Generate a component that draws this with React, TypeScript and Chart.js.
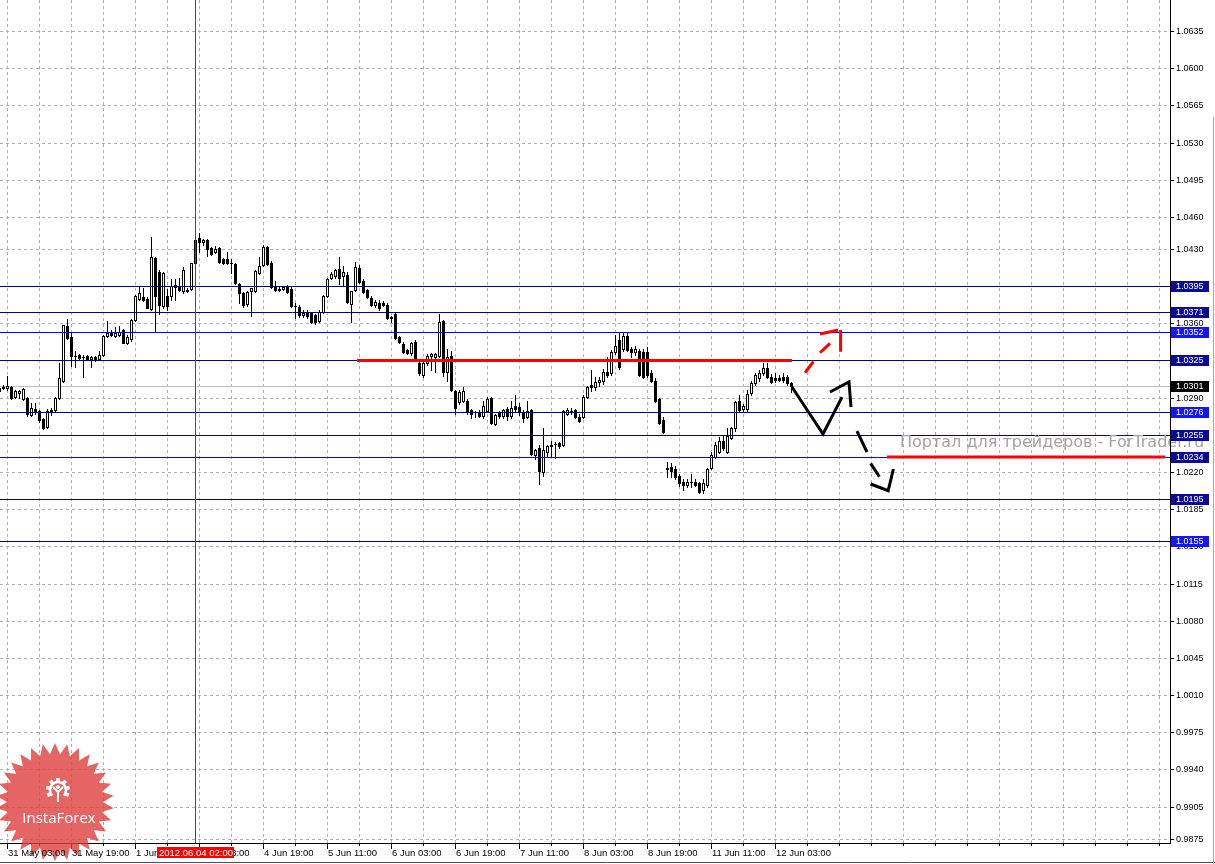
import React, { useEffect, useRef } from "react";
import { Chart, registerables } from "chart.js";

Chart.register(...registerables);

// ---------- DATA (USD/CAD H1 candles) ----------
const opens = [
  1.0299, 1.0300, 1.0299, 1.0300, 1.0291, 1.0294, 1.0289, 1.0290, 1.0274, 1.0279,
  1.0277, 1.0270, 1.0262, 1.0278, 1.0278, 1.0290, 1.0306, 1.0357, 1.0347, 1.0329,
  1.0330, 1.0328, 1.0329, 1.0326, 1.0328, 1.0326, 1.0330, 1.0348, 1.0351, 1.0348,
  1.0349, 1.0354, 1.0341, 1.0345, 1.0363, 1.0383, 1.0385, 1.0383, 1.0373, 1.0421,
  1.0408, 1.0376, 1.0386, 1.0386, 1.0396, 1.0394, 1.0390, 1.0391, 1.0392, 1.0438,
  1.0440, 1.0436, 1.0438, 1.0431, 1.0427, 1.0431, 1.0420, 1.0420, 1.0417, 1.0416,
  1.0397, 1.0388, 1.0378, 1.0390, 1.0390, 1.0407, 1.0415, 1.0432, 1.0417, 1.0394,
  1.0392, 1.0392, 1.0395, 1.0392, 1.0376, 1.0375, 1.0368, 1.0370, 1.0370, 1.0368,
  1.0362, 1.0371, 1.0386, 1.0403, 1.0404, 1.0411, 1.0404, 1.0405, 1.0378, 1.0391,
  1.0412, 1.0400, 1.0391, 1.0384, 1.0377, 1.0379, 1.0379, 1.0377, 1.0366, 1.0369,
  1.0347, 1.0340, 1.0335, 1.0332, 1.0342, 1.0323, 1.0311, 1.0323, 1.0329, 1.0328,
  1.0329, 1.0362, 1.0314, 1.0329, 1.0296, 1.0286, 1.0287, 1.0287, 1.0278, 1.0276,
  1.0276, 1.0273, 1.0277, 1.0290, 1.0265, 1.0276, 1.0273, 1.0279, 1.0273, 1.0282,
  1.0281, 1.0276, 1.0272, 1.0278, 1.0236, 1.0243, 1.0220, 1.0239, 1.0245, 1.0246,
  1.0247, 1.0245, 1.0275, 1.0277, 1.0278, 1.0272, 1.0272, 1.0291, 1.0302, 1.0300,
  1.0305, 1.0306, 1.0314, 1.0313, 1.0333, 1.0344, 1.0336, 1.0348, 1.0336, 1.0333,
  1.0334, 1.0333, 1.0333, 1.0313, 1.0306, 1.0289, 1.0269, 1.0224, 1.0225, 1.0223,
  1.0216, 1.0211, 1.0208, 1.0211, 1.0211, 1.0210, 1.0203, 1.0208, 1.0224, 1.0234,
  1.0239, 1.0249, 1.0239, 1.0252, 1.0261, 1.0287, 1.0279, 1.0279, 1.0294, 1.0304,
  1.0308, 1.0313, 1.0318, 1.0309, 1.0308, 1.0308, 1.0309, 1.0309, 1.0304,
];
const highs = [
  1.0300, 1.0302, 1.0310, 1.0301, 1.0297, 1.0297, 1.0299, 1.0291, 1.0285, 1.0285,
  1.0278, 1.0271, 1.0279, 1.0280, 1.0291, 1.0323, 1.0358, 1.0364, 1.0351, 1.0334,
  1.0331, 1.0330, 1.0330, 1.0329, 1.0329, 1.0334, 1.0349, 1.0362, 1.0354, 1.0356,
  1.0357, 1.0355, 1.0349, 1.0364, 1.0387, 1.0395, 1.0393, 1.0385, 1.0441, 1.0422,
  1.0410, 1.0408, 1.0392, 1.0402, 1.0402, 1.0403, 1.0413, 1.0393, 1.0417, 1.0440,
  1.0445, 1.0439, 1.0439, 1.0432, 1.0433, 1.0432, 1.0421, 1.0427, 1.0420, 1.0417,
  1.0398, 1.0389, 1.0390, 1.0393, 1.0410, 1.0422, 1.0434, 1.0433, 1.0419, 1.0400,
  1.0394, 1.0395, 1.0396, 1.0394, 1.0379, 1.0377, 1.0372, 1.0372, 1.0371, 1.0369,
  1.0372, 1.0387, 1.0403, 1.0408, 1.0411, 1.0422, 1.0414, 1.0408, 1.0390, 1.0418,
  1.0415, 1.0402, 1.0392, 1.0386, 1.0382, 1.0382, 1.0381, 1.0379, 1.0367, 1.0370,
  1.0348, 1.0342, 1.0336, 1.0342, 1.0344, 1.0326, 1.0324, 1.0331, 1.0332, 1.0332,
  1.0369, 1.0363, 1.0336, 1.0334, 1.0297, 1.0297, 1.0300, 1.0289, 1.0279, 1.0277,
  1.0278, 1.0287, 1.0291, 1.0291, 1.0275, 1.0277, 1.0279, 1.0281, 1.0287, 1.0292,
  1.0285, 1.0278, 1.0287, 1.0279, 1.0242, 1.0245, 1.0261, 1.0245, 1.0249, 1.0248,
  1.0248, 1.0278, 1.0280, 1.0280, 1.0279, 1.0275, 1.0292, 1.0301, 1.0316, 1.0309,
  1.0309, 1.0317, 1.0328, 1.0335, 1.0349, 1.0351, 1.0352, 1.0351, 1.0338, 1.0339,
  1.0336, 1.0336, 1.0338, 1.0316, 1.0308, 1.0290, 1.0272, 1.0229, 1.0228, 1.0226,
  1.0218, 1.0213, 1.0213, 1.0218, 1.0213, 1.0211, 1.0213, 1.0224, 1.0239, 1.0248,
  1.0253, 1.0254, 1.0261, 1.0262, 1.0287, 1.0292, 1.0284, 1.0297, 1.0306, 1.0313,
  1.0316, 1.0323, 1.0323, 1.0312, 1.0313, 1.0311, 1.0313, 1.0311, 1.0305,
];
const lows = [
  1.0294, 1.0298, 1.0297, 1.0289, 1.0290, 1.0290, 1.0288, 1.0273, 1.0273, 1.0275,
  1.0267, 1.0260, 1.0261, 1.0274, 1.0277, 1.0289, 1.0305, 1.0345, 1.0320, 1.0319,
  1.0326, 1.0309, 1.0325, 1.0319, 1.0324, 1.0325, 1.0329, 1.0347, 1.0348, 1.0347,
  1.0348, 1.0341, 1.0340, 1.0343, 1.0362, 1.0382, 1.0381, 1.0374, 1.0372, 1.0352,
  1.0369, 1.0374, 1.0372, 1.0382, 1.0382, 1.0390, 1.0388, 1.0389, 1.0391, 1.0416,
  1.0427, 1.0434, 1.0423, 1.0424, 1.0426, 1.0417, 1.0416, 1.0416, 1.0407, 1.0397,
  1.0379, 1.0375, 1.0376, 1.0367, 1.0389, 1.0406, 1.0414, 1.0415, 1.0393, 1.0390,
  1.0390, 1.0391, 1.0388, 1.0375, 1.0365, 1.0366, 1.0366, 1.0365, 1.0360, 1.0359,
  1.0361, 1.0370, 1.0385, 1.0402, 1.0403, 1.0397, 1.0396, 1.0379, 1.0361, 1.0390,
  1.0398, 1.0388, 1.0384, 1.0376, 1.0375, 1.0372, 1.0376, 1.0364, 1.0361, 1.0345,
  1.0341, 1.0332, 1.0331, 1.0330, 1.0325, 1.0311, 1.0309, 1.0321, 1.0316, 1.0314,
  1.0328, 1.0310, 1.0306, 1.0296, 1.0275, 1.0284, 1.0286, 1.0275, 1.0271, 1.0272,
  1.0272, 1.0271, 1.0276, 1.0265, 1.0264, 1.0271, 1.0271, 1.0269, 1.0271, 1.0276,
  1.0274, 1.0267, 1.0271, 1.0236, 1.0232, 1.0209, 1.0216, 1.0234, 1.0234, 1.0233,
  1.0243, 1.0244, 1.0274, 1.0275, 1.0271, 1.0267, 1.0271, 1.0290, 1.0296, 1.0297,
  1.0301, 1.0303, 1.0309, 1.0311, 1.0331, 1.0317, 1.0334, 1.0334, 1.0328, 1.0330,
  1.0310, 1.0308, 1.0309, 1.0305, 1.0286, 1.0265, 1.0257, 1.0215, 1.0215, 1.0213,
  1.0207, 1.0203, 1.0206, 1.0206, 1.0207, 1.0200, 1.0200, 1.0206, 1.0223, 1.0233,
  1.0238, 1.0241, 1.0238, 1.0251, 1.0259, 1.0277, 1.0277, 1.0277, 1.0292, 1.0302,
  1.0306, 1.0311, 1.0308, 1.0304, 1.0305, 1.0306, 1.0305, 1.0302, 1.0295,
];
const closes = [
  1.0296, 1.0299, 1.0301, 1.0290, 1.0296, 1.0296, 1.0298, 1.0275, 1.0280, 1.0276,
  1.0269, 1.0261, 1.0277, 1.0276, 1.0290, 1.0308, 1.0358, 1.0346, 1.0329, 1.0329,
  1.0327, 1.0328, 1.0326, 1.0328, 1.0325, 1.0330, 1.0348, 1.0351, 1.0349, 1.0351,
  1.0352, 1.0341, 1.0347, 1.0363, 1.0386, 1.0388, 1.0382, 1.0374, 1.0422, 1.0386,
  1.0377, 1.0407, 1.0376, 1.0395, 1.0394, 1.0391, 1.0410, 1.0390, 1.0417, 1.0417,
  1.0436, 1.0438, 1.0430, 1.0425, 1.0430, 1.0418, 1.0417, 1.0417, 1.0417, 1.0398,
  1.0388, 1.0377, 1.0389, 1.0393, 1.0409, 1.0414, 1.0432, 1.0416, 1.0394, 1.0391,
  1.0391, 1.0394, 1.0389, 1.0376, 1.0376, 1.0368, 1.0370, 1.0367, 1.0361, 1.0361,
  1.0371, 1.0386, 1.0402, 1.0406, 1.0410, 1.0403, 1.0408, 1.0380, 1.0390, 1.0413,
  1.0399, 1.0389, 1.0385, 1.0377, 1.0380, 1.0374, 1.0377, 1.0365, 1.0365, 1.0346,
  1.0342, 1.0333, 1.0332, 1.0341, 1.0326, 1.0313, 1.0323, 1.0329, 1.0331, 1.0331,
  1.0361, 1.0314, 1.0328, 1.0297, 1.0280, 1.0295, 1.0296, 1.0276, 1.0275, 1.0276,
  1.0273, 1.0282, 1.0289, 1.0266, 1.0274, 1.0273, 1.0278, 1.0273, 1.0280, 1.0279,
  1.0276, 1.0271, 1.0277, 1.0237, 1.0241, 1.0221, 1.0241, 1.0244, 1.0244, 1.0246,
  1.0244, 1.0277, 1.0278, 1.0277, 1.0272, 1.0268, 1.0291, 1.0300, 1.0300, 1.0305,
  1.0307, 1.0314, 1.0311, 1.0333, 1.0339, 1.0319, 1.0348, 1.0335, 1.0333, 1.0336,
  1.0311, 1.0309, 1.0311, 1.0306, 1.0287, 1.0266, 1.0258, 1.0223, 1.0221, 1.0215,
  1.0210, 1.0208, 1.0211, 1.0211, 1.0208, 1.0201, 1.0210, 1.0223, 1.0236, 1.0245,
  1.0249, 1.0243, 1.0254, 1.0261, 1.0286, 1.0278, 1.0282, 1.0293, 1.0304, 1.0311,
  1.0313, 1.0318, 1.0309, 1.0305, 1.0307, 1.0307, 1.0307, 1.0304, 1.0301,
];

// price axis labels
const yTickValues = [
  1.0635, 1.06, 1.0565, 1.053, 1.0495, 1.046, 1.043, 1.0395, 1.036, 1.0325, 1.029, 1.0255,
  1.022, 1.0185, 1.015, 1.0115, 1.008, 1.0045, 1.001, 0.9975, 0.994, 0.9905, 0.9875,
];
// time axis labels (bar index -> label)
const timeLabelBars = [2, 18, 34, 50, 66, 82, 98, 114, 130, 146, 162, 178, 194];
const timeLabels = [
  "31 May 03:00", "31 May 19:00", "1 Jun 11:00", "4 Jun 03:00", "4 Jun 19:00", "5 Jun 11:00",
  "6 Jun 03:00", "6 Jun 19:00", "7 Jun 11:00", "8 Jun 03:00", "8 Jun 19:00", "11 Jun 11:00",
  "12 Jun 03:00",
];
const gridFirstBar = 2;
const gridStepBars = 8;
const xMinBar = 0.25;
const xMaxBar = 292.75;
const yMinPrice = 0.98708;
const yMaxPrice = 1.06642;

// horizontal levels
const levelValues = [1.0395, 1.0371, 1.0352, 1.0325, 1.0276, 1.0255, 1.0234, 1.0195, 1.0155];
const levelBright = [false, false, true, false, true, false, false, false, true];
const levelLineBright = [false, false, true, false, false, false, true, false, false];
const bidPrice = 1.0301;

// crosshair
const crosshairBar = 49;
const crosshairText = "2012.06.04 02:00";

// hand-drawn objects (bar index, price)
const redLevel1 = [[89.5, 1.0325], [198.25, 1.0325]];
const redLevel2 = [[222, 1.0234], [291.5, 1.0234]];
const blackWave = [[198.25, 1.03], [206, 1.02557], [210.75, 1.02905]];
const blackHead = [[207.75, 1.02953], [212.5, 1.03047], [213, 1.02811]];
const blackDash1 = [[214.5, 1.02585], [217, 1.02388]];
const blackDash2 = [[217.9, 1.02281], [220.1, 1.02155]];
const blackHead2 = [[217.9, 1.02087], [222.3, 1.02024], [223.6, 1.02228]];
const redDash1 = [[201.5, 1.03134], [203.6, 1.03238]];
const redDash2 = [[205.25, 1.03322], [207.75, 1.03411]];
const redHead1 = [[205.25, 1.03498], [209.8, 1.03536]];
const redHead2 = [[210.4, 1.03536], [210.4, 1.03332]];

const watermarkText = "Портал для трейдеров - ForTrader.ru";
const watermarkBar = 225.25;
const watermarkPrice = 1.02432;

// ---------- STYLE ----------
const GRID = "#b0b0b0";
const DARK_BLUE = "#000088";
const BRIGHT_BLUE = "#0000ff";
const BOX_DARK = "#0a0a96";
const BOX_BRIGHT = "#1414ff";
const RED = "#ff0000";
const AXIS_FONT = '9px "Liberation Sans", Arial, sans-serif';
const TIME_FONT = '9.5px "Liberation Sans", Arial, sans-serif';

function toPts(arr: number[][]) {
  return arr.map(([x, y]) => ({ x, y }));
}

function shape(arr: number[][], color: string) {
  return {
    data: toPts(arr),
    showLine: true,
    borderColor: color,
    backgroundColor: color,
    borderWidth: 3,
    pointRadius: 0,
    pointHoverRadius: 0,
    tension: 0,
    fill: false,
    borderCapStyle: "butt",
    borderJoinStyle: "miter",
  };
}

const mt4Plugin = {
  id: "mt4",
  beforeDraw(chart: any) {
    const ctx = chart.ctx;
    ctx.save();
    ctx.fillStyle = "#ffffff";
    ctx.fillRect(0, 0, chart.width, chart.height);
    ctx.restore();
  },
  beforeDatasetsDraw(chart: any) {
    const ctx = chart.ctx;
    const xs = chart.scales.x;
    const ys = chart.scales.y;
    const a = chart.chartArea;
    ctx.save();
    // grid
    ctx.strokeStyle = GRID;
    ctx.lineWidth = 1;
    ctx.setLineDash([3, 3]);
    for (const t of xs.ticks) {
      const px = Math.round(xs.getPixelForValue(t.value)) + 0.5;
      ctx.beginPath();
      ctx.moveTo(px, a.top);
      ctx.lineTo(px, a.bottom);
      ctx.stroke();
    }
    for (const t of ys.ticks) {
      const py = Math.round(ys.getPixelForValue(t.value)) + 0.5;
      ctx.beginPath();
      ctx.moveTo(a.left, py);
      ctx.lineTo(a.right, py);
      ctx.stroke();
    }
    ctx.setLineDash([]);
    // bid line
    ctx.strokeStyle = "#c0c0c0";
    const pyBid = Math.round(ys.getPixelForValue(bidPrice)) + 0.5;
    ctx.beginPath();
    ctx.moveTo(a.left, pyBid);
    ctx.lineTo(a.right, pyBid);
    ctx.stroke();
    // candles
    for (let i = 0; i < opens.length; i++) {
      const x = Math.round(xs.getPixelForValue(i));
      const yH = Math.round(ys.getPixelForValue(highs[i]));
      const yL = Math.round(ys.getPixelForValue(lows[i]));
      const yO = Math.round(ys.getPixelForValue(opens[i]));
      const yC = Math.round(ys.getPixelForValue(closes[i]));
      ctx.fillStyle = "#000000";
      ctx.fillRect(x, yH, 1, yL - yH + 1);
      const top = Math.min(yO, yC);
      const bot = Math.max(yO, yC);
      ctx.fillRect(x - 1, top, 3, bot - top + 1);
      if (closes[i] > opens[i] && bot - top >= 2) {
        ctx.fillStyle = "#ffffff";
        ctx.fillRect(x, top + 1, 1, bot - top - 1);
      }
    }
    // level lines
    ctx.lineWidth = 1;
    levelValues.forEach((v, k) => {
      const py = Math.round(ys.getPixelForValue(v)) + 0.5;
      ctx.strokeStyle = levelLineBright[k] ? BRIGHT_BLUE : DARK_BLUE;
      ctx.beginPath();
      ctx.moveTo(a.left, py);
      ctx.lineTo(a.right, py);
      ctx.stroke();
    });
    // crosshair
    const cx = Math.round(xs.getPixelForValue(crosshairBar)) + 0.5;
    ctx.strokeStyle = RED;
    ctx.beginPath();
    ctx.moveTo(cx, a.top);
    ctx.lineTo(cx, a.bottom);
    ctx.stroke();
    ctx.restore();
  },
  afterDraw(chart: any) {
    const ctx = chart.ctx;
    const xs = chart.scales.x;
    const ys = chart.scales.y;
    const a = chart.chartArea;
    ctx.save();

    // watermark
    ctx.font = '16px "DejaVu Sans", sans-serif';
    ctx.fillStyle = "#a8a0a0";
    ctx.textAlign = "left";
    ctx.textBaseline = "alphabetic";
    ctx.fillText(watermarkText, xs.getPixelForValue(watermarkBar), ys.getPixelForValue(watermarkPrice));

    // axis frame
    ctx.strokeStyle = "#000000";
    ctx.lineWidth = 1;
    ctx.beginPath();
    ctx.moveTo(a.right + 0.5, 0);
    ctx.lineTo(a.right + 0.5, a.bottom + 1);
    ctx.moveTo(0, a.bottom + 0.5);
    ctx.lineTo(a.right + 1, a.bottom + 0.5);
    ctx.stroke();
    ctx.strokeStyle = "#505050";
    ctx.beginPath();
    ctx.moveTo(0, chart.height - 1.5);
    ctx.lineTo(chart.width, chart.height - 1.5);
    ctx.stroke();
    // window edge on the far right
    ctx.strokeStyle = "#a8a8a8";
    ctx.beginPath();
    ctx.moveTo(chart.width - 1.5, 117);
    ctx.lineTo(chart.width - 1.5, chart.height);
    ctx.stroke();

    // y ticks + labels
    ctx.strokeStyle = "#000000";
    ctx.fillStyle = "#000000";
    ctx.font = AXIS_FONT;
    ctx.textAlign = "left";
    ctx.textBaseline = "middle";
    for (const t of ys.ticks) {
      const py = Math.round(ys.getPixelForValue(t.value)) + 0.5;
      ctx.beginPath();
      ctx.moveTo(a.right + 1, py);
      ctx.lineTo(a.right + 4, py);
      ctx.stroke();
      ctx.fillText(t.value.toFixed(4), a.right + 6, py + 0.5);
    }

    // x ticks
    for (const t of xs.ticks) {
      const px = Math.round(xs.getPixelForValue(t.value)) + 0.5;
      const major = timeLabelBars.indexOf(t.value) >= 0;
      ctx.beginPath();
      ctx.moveTo(px, a.bottom + 1);
      ctx.lineTo(px, a.bottom + (major ? 6 : 3));
      ctx.stroke();
    }

    // InstaForex badge (drawn under the time labels)
    const bx = 55, by = 802, R = 59, r = 48, n = 30;
    ctx.beginPath();
    for (let k = 0; k < n * 2; k++) {
      const ang = (Math.PI * k) / n - Math.PI / 2;
      const rad = k % 2 === 0 ? R : r;
      const px = bx + rad * Math.cos(ang);
      const py = by + rad * Math.sin(ang);
      if (k === 0) ctx.moveTo(px, py);
      else ctx.lineTo(px, py);
    }
    ctx.closePath();
    ctx.fillStyle = "rgba(222, 62, 62, 0.8)";
    ctx.fill();
    // gear icon
    ctx.strokeStyle = "#ffffff";
    ctx.fillStyle = "#ffffff";
    ctx.lineWidth = 2.5;
    const gx = 58, gy = 790;
    ctx.beginPath();
    ctx.arc(gx, gy, 8, Math.PI * 0.75, Math.PI * 2.25);
    ctx.stroke();
    for (let k = 0; k < 7; k++) {
      const ang = Math.PI * 0.85 + (k * Math.PI * 1.3) / 6;
      ctx.save();
      ctx.translate(gx + 10 * Math.cos(ang), gy + 10 * Math.sin(ang));
      ctx.rotate(ang);
      ctx.fillRect(-2, -1.8, 4, 3.6);
      ctx.restore();
    }
    ctx.lineWidth = 2;
    ctx.beginPath();
    ctx.arc(gx, gy - 3, 2, 0, Math.PI * 2);
    ctx.fill();
    ctx.beginPath();
    ctx.moveTo(gx - 5, gy - 3);
    ctx.lineTo(gx, gy + 2);
    ctx.lineTo(gx + 5, gy - 3);
    ctx.moveTo(gx, gy + 2);
    ctx.lineTo(gx, gy + 12);
    ctx.stroke();
    ctx.font = '15px "Open Sans", "DejaVu Sans", sans-serif';
    ctx.textAlign = "center";
    ctx.textBaseline = "alphabetic";
    ctx.fillText("InstaForex", 59, 823);

    // time labels
    ctx.fillStyle = "#000000";
    ctx.font = TIME_FONT;
    ctx.textAlign = "left";
    ctx.textBaseline = "alphabetic";
    timeLabelBars.forEach((b, k) => {
      const px = Math.round(xs.getPixelForValue(b));
      ctx.fillText(timeLabels[k], px + 1, a.bottom + 13);
    });

    // crosshair time box
    const cx = Math.round(xs.getPixelForValue(crosshairBar));
    ctx.fillStyle = RED;
    ctx.fillRect(cx - 38, a.bottom + 4, 77, 11);
    ctx.fillStyle = "#ffffff";
    ctx.textAlign = "center";
    ctx.fillText(crosshairText, cx + 1, a.bottom + 13);

    // level value boxes
    ctx.font = AXIS_FONT;
    ctx.textAlign = "left";
    ctx.textBaseline = "middle";
    const drawBox = (v: number, color: string) => {
      const py = Math.round(ys.getPixelForValue(v));
      ctx.fillStyle = color;
      ctx.fillRect(a.right + 1, py - 5, 38, 11);
      ctx.fillStyle = "#ffffff";
      ctx.fillText(v.toFixed(4), a.right + 6, py + 1);
    };
    levelValues.forEach((v, k) => drawBox(v, levelBright[k] ? BOX_BRIGHT : BOX_DARK));
    drawBox(bidPrice, "#000000");

    ctx.restore();
  },
};

export default function App() {
  const canvasRef = useRef<HTMLCanvasElement | null>(null);

  useEffect(() => {
    document.body.style.margin = "0";
    const canvas = canvasRef.current;
    if (!canvas) return;
    const datasets: any[] = [
      shape(redLevel1, RED),
      shape(redLevel2, RED),
      shape(blackWave, "#000000"),
      shape(blackHead, "#000000"),
      shape(blackDash1, "#000000"),
      shape(blackDash2, "#000000"),
      shape(blackHead2, "#000000"),
      shape(redDash1, RED),
      shape(redDash2, RED),
      shape(redHead1, RED),
      shape(redHead2, RED),
    ];
    const gridBars: number[] = [];
    for (let b = gridFirstBar; b < xMaxBar; b += gridStepBars) gridBars.push(b);

    const chart = new Chart(canvas, {
      type: "scatter",
      data: { datasets },
      options: {
        animation: false,
        responsive: false,
        devicePixelRatio: 1,
        events: [],
        layout: { padding: 0 },
        plugins: {
          legend: { display: false },
          tooltip: { enabled: false },
          title: { display: false },
        },
        scales: {
          x: {
            type: "linear",
            min: xMinBar,
            max: xMaxBar,
            grid: { display: false },
            border: { display: false },
            ticks: { display: false },
            afterBuildTicks: (s: any) => {
              s.ticks = gridBars.map((v) => ({ value: v }));
            },
            afterFit: (s: any) => {
              s.height = 21;
              s.paddingLeft = 0;
              s.paddingRight = 0;
            },
          },
          y: {
            type: "linear",
            position: "right",
            min: yMinPrice,
            max: yMaxPrice,
            grid: { display: false },
            border: { display: false },
            ticks: { display: false },
            afterBuildTicks: (s: any) => {
              s.ticks = yTickValues.map((v) => ({ value: v }));
            },
            afterFit: (s: any) => {
              s.width = 45;
              s.paddingTop = 0;
              s.paddingBottom = 0;
            },
          },
        },
      } as any,
      plugins: [mt4Plugin],
    });
    return () => chart.destroy();
  }, []);

  return (
    <div style={{ width: 1215, height: 864, overflow: "hidden" }}>
      <canvas ref={canvasRef} width={1215} height={864} style={{ display: "block", width: 1215, height: 864 }} />
    </div>
  );
}
